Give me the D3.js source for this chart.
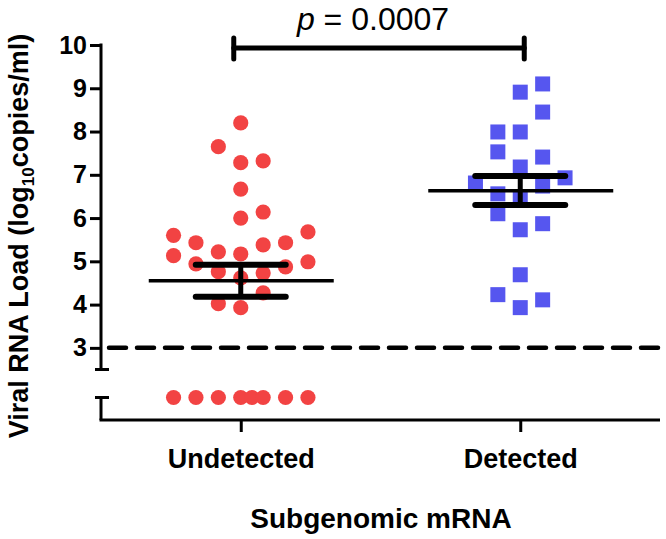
<!DOCTYPE html>
<html>
<head>
<meta charset="utf-8">
<script src="https://cdn.jsdelivr.net/npm/d3@7"></script>
<style>
  body { margin: 0; background: #fff; }
  svg { display: block; }
</style>
</head>
<body>
<svg id="fig" width="666" height="539"></svg>
<script>

// groups on the x axis
var groups = ["Undetected", "Detected"];

// undetected sgRNA group, values above the limit (log10 copies/ml) and jitter column
var undetectedVals = [8.2, 7.65, 7.28, 7.32, 6.67, 6.14, 6.0, 5.6, 5.68, 5.43, 5.43, 5.38, 5.22, 5.17,
                      5.13, 4.99, 4.94, 4.87, 4.76, 4.73, 4.62, 4.27, 4.02, 3.93];
var undetectedCols = [0, -1, 0, 1, 0, 1, 0, -3, 3, -2, 2, 1, -1, 0,
                      -3, 3, -2, 2, -1, 1, 0, 1, -1, 0];
// below the limit of detection, plotted under the axis break
var undetectedLowCols = [-3, -2, -1, 0, 0.5, 1, 2, 3];

// detected sgRNA group
var detectedVals = [9.10, 8.91, 8.45, 7.99, 7.99, 7.53, 7.41, 7.18, 6.93, 6.81, 6.74, 6.56, 6.49,
                    6.10, 5.87, 5.73, 4.69, 4.23, 3.93, 4.11];
var detectedCols = [1, 0, 1, -1, 0, -1, 1, 0, 2, -2, 1, -1, 0,
                    -1, 1, 0, 0, -1, 0, 1];

// mean and SEM per group
var groupMeans = [4.55, 6.63];
var semLow = [4.18, 6.30];
var semHigh = [4.92, 6.97];

var yTicks = [3, 4, 5, 6, 7, 8, 9, 10];
var limitOfDetection = 3;
var pText = "0.0007";

var FONT = "Arial, 'Liberation Sans', sans-serif";

var svg = d3.select("#fig");

var x = d3.scalePoint().domain(groups).range([101, 660]).padding(0.5);
var jit = d3.scaleLinear().domain([-1, 1]).range([-22.4, 22.4]);
var y = d3.scaleLinear().domain([2.5, 10]).range([369.5, 45]);
// lower segment under the break, holds the non-detected samples
var yLow = d3.scaleLinear().domain([-1, 0]).range([420, 397.5]);

// ---- axes ----
var yAxis = d3.axisLeft(y).tickValues(yTicks).tickSize(11).tickPadding(3).tickFormat(d3.format("d"));
var gy = svg.append("g").attr("transform", "translate(101,0)").call(yAxis);
gy.select(".domain").remove();
gy.selectAll(".tick line").attr("stroke", "#000").attr("stroke-width", 3);
gy.selectAll(".tick text")
  .attr("font-family", FONT).attr("font-weight", "bold").attr("font-size", "25px")
  .attr("fill", "#000");

// upper y segment with cap at the break
svg.append("line").attr("x1", 101).attr("x2", 101).attr("y1", y(10) - 1.5).attr("y2", y(2.5))
   .attr("stroke", "#000").attr("stroke-width", 3);
svg.append("line").attr("x1", 95).attr("x2", 109).attr("y1", y(2.5)).attr("y2", y(2.5))
   .attr("stroke", "#000").attr("stroke-width", 3);
// lower y segment
svg.append("line").attr("x1", 101).attr("x2", 101).attr("y1", yLow(0)).attr("y2", yLow(-1))
   .attr("stroke", "#000").attr("stroke-width", 3);
svg.append("line").attr("x1", 95).attr("x2", 109).attr("y1", yLow(0)).attr("y2", yLow(0))
   .attr("stroke", "#000").attr("stroke-width", 3);

// x axis
svg.append("line").attr("x1", 99.5).attr("x2", 660).attr("y1", yLow(-1)).attr("y2", yLow(-1))
   .attr("stroke", "#000").attr("stroke-width", 3);
var xAxis = d3.axisBottom(x).tickSize(12).tickPadding(10);
var gx = svg.append("g").attr("transform", "translate(0," + yLow(-1) + ")").call(xAxis);
gx.select(".domain").remove();
gx.selectAll(".tick line").attr("stroke", "#000").attr("stroke-width", 3);
gx.selectAll(".tick text")
  .attr("font-family", FONT).attr("font-weight", "bold").attr("font-size", "27px")
  .attr("fill", "#000").attr("dy", "0.95em");

// limit of detection
svg.append("line").attr("x1", 101).attr("x2", 662)
   .attr("y1", y(limitOfDetection)).attr("y2", y(limitOfDetection))
   .attr("stroke", "#000").attr("stroke-width", 4.5)
   .attr("stroke-dasharray", "17,11").attr("stroke-linecap", "round")
   .attr("stroke-dashoffset", -8);

// ---- points ----
var cx0 = x(groups[0]), cx1 = x(groups[1]);

svg.append("g").selectAll("circle")
   .data(undetectedVals)
   .enter().append("circle")
   .attr("cx", function(d, i){ return cx0 + jit(undetectedCols[i]); })
   .attr("cy", function(d){ return y(d); })
   .attr("r", 7.6)
   .attr("fill", "#f24343");

svg.append("g").selectAll("circle")
   .data(undetectedLowCols)
   .enter().append("circle")
   .attr("cx", function(d){ return cx0 + jit(d); })
   .attr("cy", yLow(0))
   .attr("r", 7.6)
   .attr("fill", "#f24343");

svg.append("g").selectAll("rect")
   .data(detectedVals)
   .enter().append("rect")
   .attr("x", function(d, i){ return cx1 + jit(detectedCols[i]) - 7.5; })
   .attr("y", function(d){ return y(d) - 7.5; })
   .attr("width", 15).attr("height", 15)
   .attr("fill", "#5656ef");

// ---- mean + SEM ----
var gm = svg.append("g").attr("stroke", "#000");
groups.forEach(function(g, i){
    var cx = x(g);
    gm.append("line").attr("x1", cx - 92).attr("x2", cx + 93)
      .attr("y1", y(groupMeans[i])).attr("y2", y(groupMeans[i])).attr("stroke-width", 3.5);
    gm.append("line").attr("x1", cx).attr("x2", cx)
      .attr("y1", y(semLow[i])).attr("y2", y(semHigh[i])).attr("stroke-width", 5);
    [semLow[i], semHigh[i]].forEach(function(v){
        gm.append("line").attr("x1", cx - 45).attr("x2", cx + 45)
          .attr("y1", y(v)).attr("y2", y(v))
          .attr("stroke-width", 6).attr("stroke-linecap", "round");
    });
});

// ---- significance bracket ----
var bx0 = cx0 - 7, bx1 = cx1 + 4, by = 48;
var gb = svg.append("g").attr("stroke", "#000").attr("stroke-width", 5).attr("stroke-linecap", "round");
gb.append("line").attr("x1", bx0).attr("x2", bx1).attr("y1", by).attr("y2", by);
gb.append("line").attr("x1", bx0).attr("x2", bx0).attr("y1", by - 10).attr("y2", by + 11);
gb.append("line").attr("x1", bx1).attr("x2", bx1).attr("y1", by - 10).attr("y2", by + 11);

var pt = svg.append("text")
   .attr("x", (bx0 + bx1) / 2 - 6).attr("y", 30)
   .attr("text-anchor", "middle")
   .attr("font-family", FONT).attr("font-size", "32px").attr("fill", "#000");
pt.append("tspan").attr("font-style", "italic").text("p");
pt.append("tspan").text(" = " + pText);

// ---- axis titles ----
var yt = svg.append("text")
   .attr("transform", "translate(28,236) rotate(-90)")
   .attr("text-anchor", "middle")
   .attr("font-family", FONT).attr("font-weight", "bold").attr("font-size", "27px")
   .attr("fill", "#000");
yt.append("tspan").text("Viral RNA Load (log");
yt.append("tspan").attr("font-size", "17px").attr("dy", 6).text("10");
yt.append("tspan").attr("dy", -6).text("copies/ml)");

svg.append("text")
   .attr("x", 381).attr("y", 528)
   .attr("text-anchor", "middle")
   .attr("font-family", FONT).attr("font-weight", "bold").attr("font-size", "28px")
   .attr("fill", "#000")
   .text("Subgenomic mRNA");

</script>
</body>
</html>
